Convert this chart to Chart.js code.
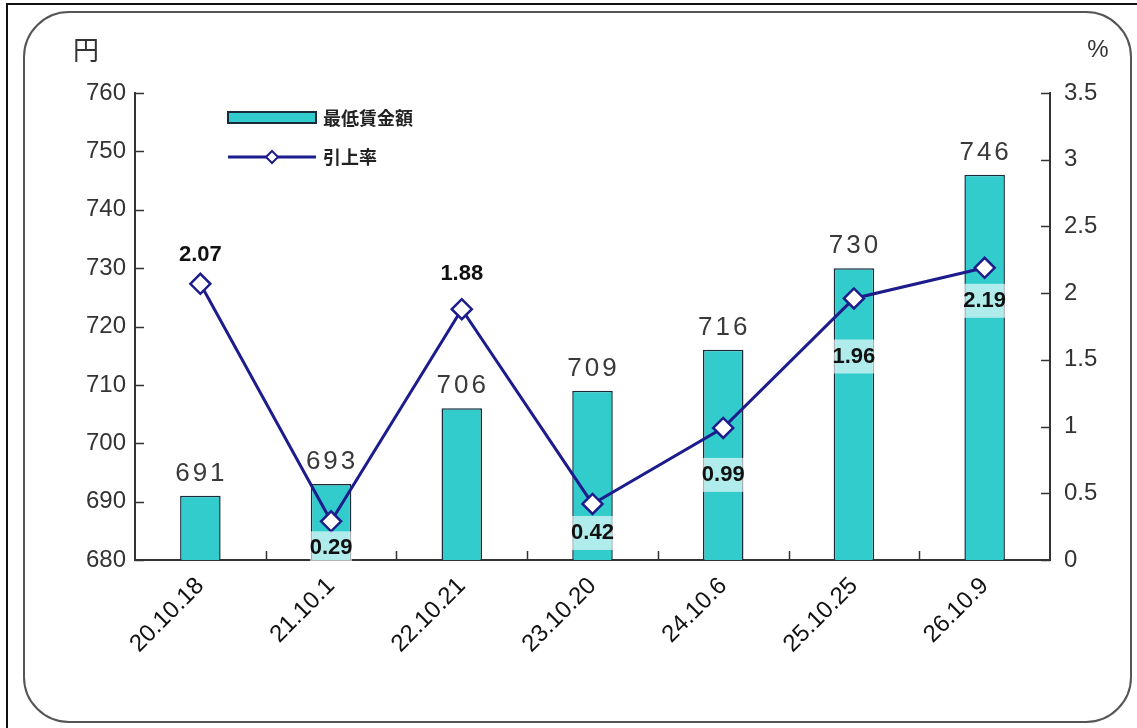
<!DOCTYPE html>
<html>
<head>
<meta charset="utf-8">
<script src="https://cdn.jsdelivr.net/npm/chart.js@4/dist/chart.umd.min.js"></script>
<style>
  html, body { margin: 0; padding: 0; background: #fff; overflow: hidden; }
  #frame { position: absolute; left: 6px; top: 3px; width: 1131px; height: 725px;
           border-top: 2px solid #111; border-left: 2px solid #111; }
  #box { position: absolute; left: 23px; top: 11px; width: 1105px; height: 708px;
         border: 2px solid #555; border-radius: 46px; }
  #wrap { position: absolute; left: 0; top: 0; width: 1137px; height: 728px; }
</style>
</head>
<body>
<div id="frame"></div>
<div id="box"></div>
<div id="wrap"><canvas id="myChart" width="1137" height="728"></canvas></div>
<script>
// categories (dates) and the two series
var dates = ['20.10.18', '21.10.1', '22.10.21', '23.10.20', '24.10.6', '25.10.25', '26.10.9'];
var wages = [691, 693, 706, 709, 716, 730, 746];
var rates = [2.07, 0.29, 1.88, 0.42, 0.99, 1.96, 2.19];

var wageTicks = { min: 680, max: 760, step: 10 };
var rateTicks = { min: 0, max: 3.5, step: 0.5 };

var TEAL = '#33cccc';
var NAVY = '#1c1c8c';
var FONT = '"Liberation Sans", Arial, sans-serif';
var CJK = '"Noto Sans CJK JP", sans-serif';

/**
 * Inward tick marks, unit labels, legend and value labels
 */
var decorations = {
    id: 'decorations',
    afterDraw: function (chart) {
        var ctx = chart.ctx;
        var area = chart.chartArea;
        var yL = chart.scales.y;
        var yR = chart.scales.y1;
        var x = chart.scales.x;
        ctx.save();
        ctx.strokeStyle = '#333';
        ctx.lineWidth = 1.5;
        ctx.beginPath();
        yL.ticks.forEach(function (t) {
            var py = Math.round(yL.getPixelForValue(t.value)) + 0.5;
            ctx.moveTo(area.left, py);
            ctx.lineTo(area.left + 9, py);
        });
        yR.ticks.forEach(function (t) {
            var py = Math.round(yR.getPixelForValue(t.value)) + 0.5;
            ctx.moveTo(area.right, py);
            ctx.lineTo(area.right - 9, py);
        });
        for (var i = 1; i < dates.length; i++) {
            var px = Math.round((x.getPixelForValue(i - 1) + x.getPixelForValue(i)) / 2) + 0.5;
            ctx.moveTo(px, area.bottom);
            ctx.lineTo(px, area.bottom - 9);
        }
        ctx.stroke();

        // unit labels
        ctx.fillStyle = '#333';
        ctx.font = '26px ' + CJK;
        ctx.textAlign = 'center';
        ctx.textBaseline = 'middle';
        ctx.fillText('円', 86, 50);
        ctx.font = '24px ' + FONT;
        ctx.fillText('%', 1098, 50);

        // legend
        var lx = area.left + 93;
        ctx.fillStyle = TEAL;
        ctx.strokeStyle = '#1a2a3a';
        ctx.lineWidth = 2;
        ctx.fillRect(lx, 112, 88, 11);
        ctx.strokeRect(lx, 112, 88, 11);
        ctx.strokeStyle = NAVY;
        ctx.lineWidth = 3;
        ctx.beginPath();
        ctx.moveTo(lx, 157);
        ctx.lineTo(lx + 88, 157);
        ctx.stroke();
        ctx.fillStyle = '#fff';
        ctx.lineWidth = 2;
        ctx.beginPath();
        ctx.moveTo(lx + 44, 151);
        ctx.lineTo(lx + 50, 157);
        ctx.lineTo(lx + 44, 163);
        ctx.lineTo(lx + 38, 157);
        ctx.closePath();
        ctx.fill();
        ctx.stroke();
        ctx.fillStyle = '#222';
        ctx.font = 'bold 18px ' + CJK;
        ctx.textAlign = 'left';
        ctx.fillText(chart.data.datasets[1].label, lx + 95, 118);
        ctx.fillText(chart.data.datasets[0].label, lx + 95, 157);
        ctx.restore();
    },
    afterDatasetsDraw: function (chart) {
        var ctx = chart.ctx;
        ctx.save();
        ctx.textAlign = 'center';
        ctx.textBaseline = 'middle';

        // bar values
        var barMeta = chart.getDatasetMeta(1);
        ctx.font = '26px ' + FONT;
        ctx.fillStyle = '#3a3a3a';
        if ('letterSpacing' in ctx) ctx.letterSpacing = '3px';
        barMeta.data.forEach(function (el, i) {
            ctx.fillText(String(wages[i]), el.x + 1, el.y - 22);
        });
        if ('letterSpacing' in ctx) ctx.letterSpacing = '0px';

        // rate values
        var lineMeta = chart.getDatasetMeta(0);
        var offsets = [-29, 27, -35, 29, 47, 58, 33];
        ctx.font = 'bold 22px ' + FONT;
        lineMeta.data.forEach(function (el, i) {
            var ty = el.y + offsets[i];
            if (offsets[i] > 0) {
                ctx.fillStyle = 'rgba(255,255,255,0.62)';
                ctx.fillRect(el.x - 21, ty - 17, 42, 34);
            }
            ctx.fillStyle = '#111';
            ctx.fillText(rates[i].toFixed(2), el.x, ty);
        });
        ctx.restore();
    }
};

var ctx = document.getElementById('myChart').getContext('2d');
var myChart = new Chart(ctx, {
    type: 'bar',
    data: {
        labels: dates,
        datasets: [{
            type: 'line',
            label: '引上率',
            data: rates,
            yAxisID: 'y1',
            order: 0,
            borderColor: NAVY,
            borderWidth: 3,
            tension: 0,
            pointStyle: 'rectRot',
            pointRadius: 10,
            pointBorderWidth: 2.5,
            pointBorderColor: NAVY,
            pointBackgroundColor: '#fff'
        }, {
            type: 'bar',
            label: '最低賃金額',
            data: wages,
            yAxisID: 'y',
            order: 1,
            backgroundColor: TEAL,
            borderColor: '#1a2a3a',
            borderWidth: 1.5,
            borderSkipped: 'bottom',
            categoryPercentage: 1,
            barPercentage: 0.31
        }]
    },
    options: {
        responsive: false,
        animation: false,
        devicePixelRatio: 1,
        layout: { padding: { top: 93, left: 0, right: 0, bottom: 0 } },
        plugins: {
            legend: { display: false },
            tooltip: { enabled: false }
        },
        scales: {
            x: {
                offset: true,
                grid: { display: false, drawTicks: false },
                border: { display: true, color: '#333', width: 2 },
                ticks: {
                    color: '#111',
                    font: { family: FONT, size: 24 },
                    minRotation: 45,
                    maxRotation: 45,
                    padding: 12
                },
                afterFit: function (scale) { scale.height = 168; }
            },
            y: {
                position: 'left',
                min: wageTicks.min,
                max: wageTicks.max,
                grid: { display: false, drawTicks: false },
                border: { display: true, color: '#333', width: 2 },
                ticks: {
                    stepSize: wageTicks.step,
                    color: '#333',
                    font: { family: FONT, size: 24 },
                    padding: 9
                },
                afterFit: function (scale) { scale.width = 135; }
            },
            y1: {
                position: 'right',
                min: rateTicks.min,
                max: rateTicks.max,
                grid: { display: false, drawTicks: false },
                border: { display: true, color: '#333', width: 2 },
                ticks: {
                    stepSize: rateTicks.step,
                    color: '#333',
                    font: { family: FONT, size: 24 },
                    padding: 14,
                    callback: function (v) { return String(v); }
                },
                afterFit: function (scale) { scale.width = 87; }
            }
        }
    },
    plugins: [decorations]
});
</script>
</body>
</html>
